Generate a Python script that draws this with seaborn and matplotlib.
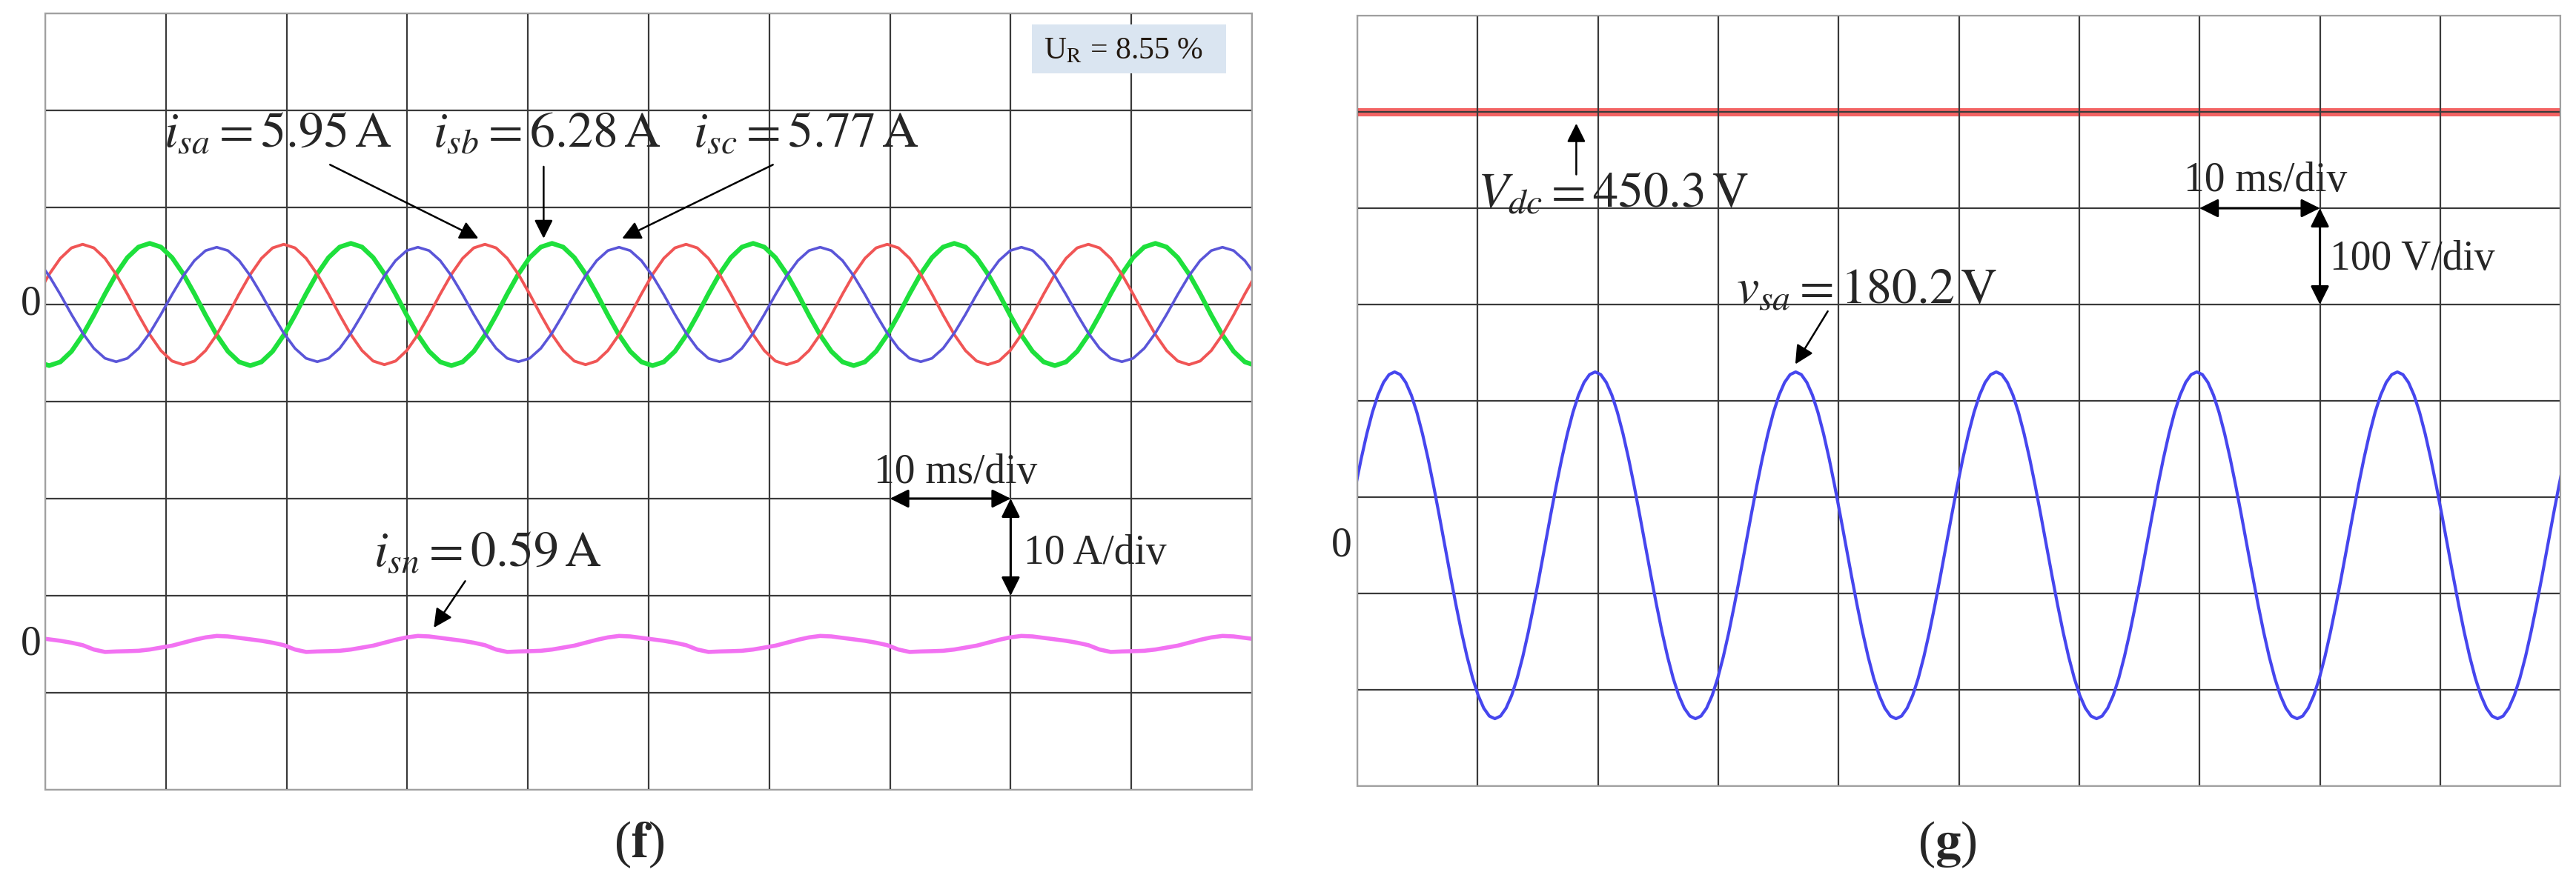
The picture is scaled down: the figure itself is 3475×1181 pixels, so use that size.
import numpy as np
import pandas as pd
import matplotlib
matplotlib.use("Agg")
import matplotlib.pyplot as plt
import seaborn as sns
from matplotlib.patches import Rectangle

# Scope captures: 10 ms/div, 10 divisions across.
# One period of each trace, starting at t = -0.6 ms.
# (f) sampled every 20 electrical degrees of 60 Hz, (g) every 10 degrees.
t0_ms = -0.6
dt_f_ms = 1000 / 1080
dt_g_ms = 1000 / 2160
n_f = 110
n_g = 220

# (f) source currents, A (10 A/div)
i_sa = [1.08, 3.1, 4.75, 5.83, 6.2, 5.83, 4.75, 3.1, 1.08,
        -1.08, -3.1, -4.75, -5.83, -6.2, -5.83, -4.75, -3.1, -1.08]
i_sb = [-5.92, -6.3, -5.92, -4.83, -3.15, -1.1, 1.1, 3.15, 4.83,
        5.92, 6.3, 5.92, 4.83, 3.15, 1.1, -1.1, -3.15, -4.83]
i_sc = [4.52, 2.95, 1.03, -1.03, -2.95, -4.52, -5.55, -5.9, -5.55,
        -4.52, -2.95, -1.03, 1.03, 2.95, 4.52, 5.55, 5.9, 5.55]
i_sn = [0.65, 0.5, 0.35, 0.15, -0.1, -0.55, -0.8, -0.75, -0.72,
        -0.68, -0.55, -0.35, -0.15, 0.15, 0.45, 0.7, 0.85, 0.8]
i_sn_offset = -35  # neutral trace zero sits 3.5 div below the phase currents

# (g) dc-link and source voltage, V (100 V/div)
v_sa = [31.3, 61.6, 90, 115.7, 137.9, 155.9, 169.1, 177.3, 180,
        177.3, 169.1, 155.9, 137.9, 115.7, 90, 61.6, 31.3, 0,
        -31.3, -61.6, -90, -115.7, -137.9, -155.9, -169.1, -177.3, -180,
        -177.3, -169.1, -155.9, -137.9, -115.7, -90, -61.6, -31.3, 0]
v_dc = 450.3


def trace(period, n, offset=0):
    reps = n // len(period) + 1
    return np.tile(period, reps)[:n] + offset


t_f = t0_ms + dt_f_ms * np.arange(n_f)
t_g = t0_ms + dt_g_ms * np.arange(n_g)

left = pd.DataFrame({"t": np.tile(t_f, 4),
                     "val": np.concatenate([trace(i_sa, n_f), trace(i_sb, n_f),
                                            trace(i_sc, n_f),
                                            trace(i_sn, n_f, i_sn_offset)]),
                     "ch": np.repeat(["isa", "isb", "isc", "isn"], n_f)})
right = pd.DataFrame({"t": t_g, "val": trace(v_sa, n_g)})

colors = {"isa": "#f05555", "isb": "#1ee03c", "isc": "#5a55d8", "isn": "#f272f2"}
widths = {"isa": 2.8, "isb": 4.5, "isc": 2.6, "isn": 4.0}

sns.set_theme(style="white")
plt.rcParams["font.family"] = ["Liberation Serif", "DejaVu Serif"]
plt.rcParams["mathtext.fontset"] = "stix"

fig = plt.figure(figsize=(34.75, 11.81), dpi=100)
ax1 = fig.add_axes([0.01755, 0.0974, 0.4685, 0.8874])
ax2 = fig.add_axes([0.5269, 0.1016, 0.4671, 0.8806])


def scope_grid(ax, ylim, ystep):
    ax.set_xlim(0, 100)
    ax.set_ylim(*ylim)
    ax.set_xticks(np.arange(0, 101, 10))
    ax.set_yticks(np.arange(ylim[0], ylim[1] + 1, ystep))
    ax.tick_params(length=0, labelbottom=False, labelleft=False)
    ax.grid(True, color="#3a3a3a", lw=1.6)
    ax.set_axisbelow(True)
    for s in ax.spines.values():
        s.set_color("#a0a0a0")
        s.set_linewidth(1.5)


scope_grid(ax1, (-50, 30), 10)
scope_grid(ax2, (-250, 550), 100)

for ch in ["isb", "isa", "isc", "isn"]:
    d = left[left["ch"] == ch]
    sns.lineplot(data=d, x="t", y="val", color=colors[ch], lw=widths[ch],
                 estimator=None, sort=False, ax=ax1)
sns.lineplot(data=right, x="t", y="val", color="#4646ee", lw=3.0,
             estimator=None, sort=False, ax=ax2)
ax2.axhline(v_dc, color="#f03c3c", lw=8, alpha=0.8, zorder=0.4)
for ax in (ax1, ax2):
    ax.set_xlabel("")
    ax.set_ylabel("")

arrow = dict(arrowstyle="-|>", color="black", lw=1.8, mutation_scale=38,
             shrinkA=0, shrinkB=0)
dbl = dict(arrowstyle="<|-|>", color="black", lw=2.2, mutation_scale=38,
           shrinkA=0, shrinkB=0)
big = 49
mid = 40

# --- panel (f) ---
ax1.text(9.8, 16.2, r"$i_{sa}=5.95\,\mathrm{A}$", fontsize=big, va="baseline")
ax1.text(32.1, 16.2, r"$i_{sb}=6.28\,\mathrm{A}$", fontsize=big, va="baseline")
ax1.text(53.7, 16.2, r"$i_{sc}=5.77\,\mathrm{A}$", fontsize=big, va="baseline")
ax1.annotate("", xy=(35.9, 6.8), xytext=(23.6, 14.4), arrowprops=arrow)
ax1.annotate("", xy=(41.3, 6.8), xytext=(41.3, 14.2), arrowprops=arrow)
ax1.annotate("", xy=(47.8, 6.8), xytext=(60.3, 14.4), arrowprops=arrow)

ax1.text(27.2, -27.0, r"$i_{sn}=0.59\,\mathrm{A}$", fontsize=big, va="baseline")
ax1.annotate("", xy=(32.2, -33.3), xytext=(34.8, -28.5), arrowprops=arrow)

ax1.annotate("", xy=(70, -20), xytext=(80, -20), arrowprops=dbl)
ax1.annotate("", xy=(80, -30), xytext=(80, -20), arrowprops=dbl)
ax1.text(68.7, -18.4, "10 ms/div", fontsize=mid, va="baseline")
ax1.text(81.1, -26.7, "10 A/div", fontsize=mid, va="baseline")

ax1.add_patch(Rectangle((0.8176, 0.9227), 0.161, 0.063, transform=ax1.transAxes,
                        facecolor="#dae5f1", edgecolor="none", zorder=3))
ax1.text(0.8274, 0.941, r"U$_\mathrm{R}$ = 8.55 %", transform=ax1.transAxes,
         fontsize=30, va="baseline", color="#231a12", zorder=4)

tr1 = ax1.get_yaxis_transform()
ax1.text(-0.0117, 0, "0", transform=tr1, fontsize=mid, ha="center", va="center")
ax1.text(-0.0117, i_sn_offset, "0", transform=tr1, fontsize=mid, ha="center", va="center")

# --- panel (g) ---
ax2.text(10.0, 351, r"$V_{dc}=450.3\,\mathrm{V}$", fontsize=big, va="baseline")
ax2.annotate("", xy=(18.2, 438), xytext=(18.2, 385), arrowprops=arrow)
ax2.text(31.5, 251, r"$v_{sa}=180.2\,\mathrm{V}$", fontsize=big, va="baseline")
ax2.annotate("", xy=(36.4, 188), xytext=(39.1, 243), arrowprops=arrow)

ax2.annotate("", xy=(70, 350), xytext=(80, 350), arrowprops=dbl)
ax2.annotate("", xy=(80, 250), xytext=(80, 350), arrowprops=dbl)
ax2.text(68.7, 368, "10 ms/div", fontsize=mid, va="baseline")
ax2.text(80.8, 286, "100 V/div", fontsize=mid, va="baseline")

tr2 = ax2.get_yaxis_transform()
ax2.text(-0.013, 0, "0", transform=tr2, fontsize=mid, ha="center", va="center")

fig.text(0.248, 0.0347, r"($\mathbf{f}$)", fontsize=50, ha="center", va="center")
fig.text(0.756, 0.0347, r"($\mathbf{g}$)", fontsize=50, ha="center", va="center")

fig.savefig("out.png", dpi=100, facecolor="white")
